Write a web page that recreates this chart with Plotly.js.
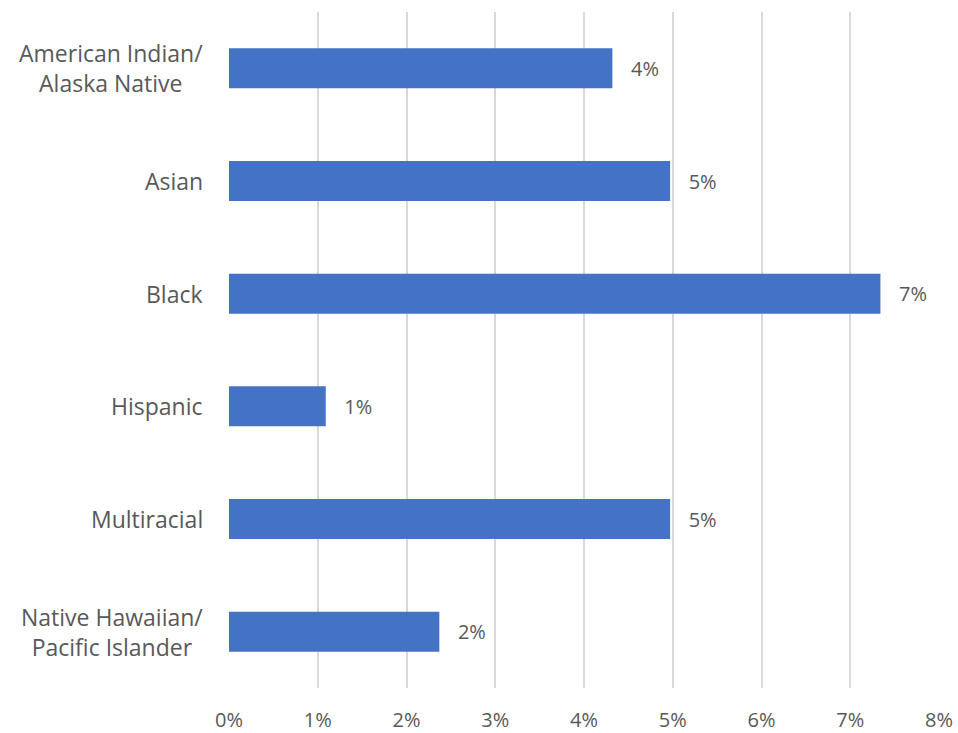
<!DOCTYPE html>
<html>
<head>
<meta charset="utf-8">
<script src="https://cdn.plot.ly/plotly-3.0.1.min.js"></script>
<style>html,body{margin:0;padding:0;background:#fff;}#chart{width:958px;height:733px;}</style>
</head>
<body>
<div id="chart"></div>
<script>
const categories = ["American Indian/<br>Alaska Native", "Asian", "Black", "Hispanic", "Multiracial", "Native Hawaiian/<br>Pacific Islander"];
const values = [4.32, 4.97, 7.34, 1.09, 4.97, 2.37];
const valueLabels = ["4%", "5%", "7%", "1%", "5%", "2%"];
const tickVals = [0, 1, 2, 3, 4, 5, 6, 7, 8];
const tickText = ["0%", "1%", "2%", "3%", "4%", "5%", "6%", "7%", "8%"];

const pad = "\u00A0\u00A0\u00A0";
const trace = {
  type: "bar",
  orientation: "h",
  x: values,
  y: categories,
  text: valueLabels.map(t => pad + t),
  textposition: "outside",
  cliponaxis: false,
  textfont: {family: "Open Sans, Liberation Sans, sans-serif", size: 20, color: "#595959"},
  marker: {color: "#4472C4"},
  hoverinfo: "none"
};

const categoryLabels = categories.map(c => ({
  xref: "paper",
  yref: "y",
  x: 0,
  y: c,
  xanchor: "right",
  yanchor: "middle",
  xshift: -24,
  align: "center",
  showarrow: false,
  text: c,
  font: {family: "Open Sans, Liberation Sans, sans-serif", size: 23, color: "#595959"}
}));

const layout = {
  width: 958,
  height: 733,
  margin: {l: 229, r: 19, t: 12, b: 45},
  paper_bgcolor: "#ffffff",
  plot_bgcolor: "#ffffff",
  showlegend: false,
  bargap: 0.645,
  font: {family: "Open Sans, Liberation Sans, sans-serif", color: "#595959"},
  annotations: categoryLabels,
  xaxis: {
    range: [0, 8],
    tickvals: tickVals,
    ticktext: tickText,
    showgrid: true,
    gridcolor: "#d9d9d9",
    gridwidth: 2,
    zeroline: false,
    showline: false,
    ticks: "",
    ticklabelstandoff: 18,
    tickfont: {size: 20, color: "#595959"},
    fixedrange: true
  },
  yaxis: {
    autorange: "reversed",
    showgrid: false,
    zeroline: false,
    showline: false,
    ticks: "",
    showticklabels: false,
    fixedrange: true
  }
};

Plotly.newPlot("chart", [trace], layout, {displayModeBar: false, staticPlot: true});
</script>
</body>
</html>
